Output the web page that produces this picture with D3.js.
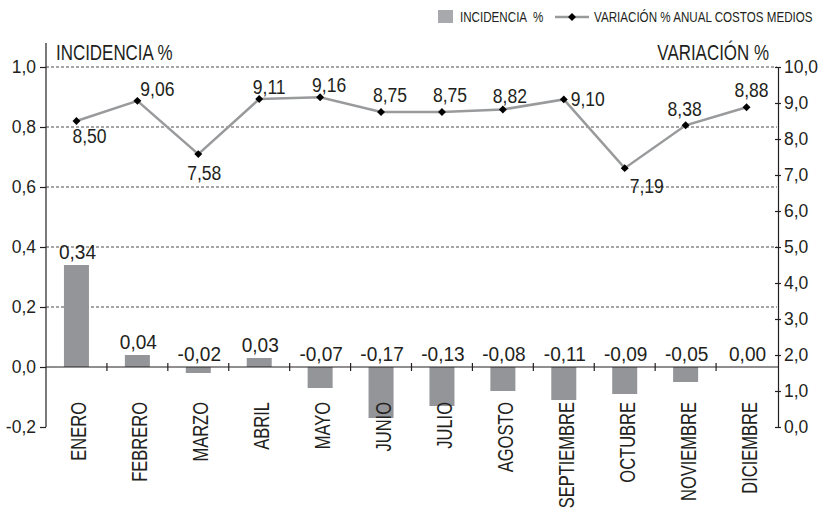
<!DOCTYPE html>
<meta charset="utf-8">
<style>
  body { margin: 0; background: #fff; }
  svg text { font-family: "Liberation Sans", Arial, sans-serif; fill: #231f20; }
  .grid line { stroke: #231f20; stroke-dasharray: 3,2; stroke-width: 0.8; }
  .axis path, .axis line { stroke: #231f20; stroke-width: 1.2; }
</style>
<body>
<svg width="822" height="512"></svg>
<script src="https://d3js.org/d3.v7.min.js"></script>
<script>
// data
var months = ["ENERO","FEBRERO","MARZO","ABRIL","MAYO","JUNIO","JULIO","AGOSTO","SEPTIEMBRE","OCTUBRE","NOVIEMBRE","DICIEMBRE"];
var incidencia = [0.34, 0.04, -0.02, 0.03, -0.07, -0.17, -0.13, -0.08, -0.11, -0.09, -0.05, 0.00];
var variacion = [8.50, 9.06, 7.58, 9.11, 9.16, 8.75, 8.75, 8.82, 9.10, 7.19, 8.38, 8.88];
var leftTicks = [-0.2, 0, 0.2, 0.4, 0.6, 0.8, 1.0];
var rightTicks = [0,1,2,3,4,5,6,7,8,9,10];

// label offsets for the line values (dx, dy from the point)
var lblDx = [13, 20, 6, 10, 9, 9, 8, 7, 24, 22, -1, 5];
var lblDy = [22, -5, 26, -5, -5, -10, -10, -6, 7, 25, -9, -10];

var svg = d3.select("svg");
var fmt1 = function(d) { return d3.format(".1f")(d).replace(".", ",").replace("−", "-"); };
var fmt2 = function(d) { return d3.format(".2f")(d).replace(".", ",").replace("−", "-"); };

// condensed look: scale text horizontally
function tf(x, y, sx, rot) {
  return "translate(" + x + "," + y + ")" + (rot ? " rotate(" + rot + ")" : "") + " scale(" + sx + ",1)";
}

var x = d3.scaleBand().domain(months).range([46, 777]);
var yL = d3.scaleLinear().domain([-0.2, 1.0]).range([427, 67]);
var yR = d3.scaleLinear().domain([0, 10]).range([427, 67]);
var cx = function(i) { return x(months[i]) + x.bandwidth() / 2; };

// grid
svg.append("g").attr("class", "grid")
  .selectAll("line").data([0.2, 0.4, 0.6, 0.8, 1.0]).enter().append("line")
  .attr("x1", 46).attr("x2", 777)
  .attr("y1", function(d) { return yL(d); }).attr("y2", function(d) { return yL(d); });

// bars
var bw = 25;
svg.append("g").selectAll("rect").data(incidencia).enter().append("rect")
  .attr("x", function(d, i) { return cx(i) - bw / 2; })
  .attr("y", function(d) { return yL(Math.max(0, d)); })
  .attr("width", bw)
  .attr("height", function(d) { return Math.abs(yL(d) - yL(0)); })
  .attr("fill", "#939598");

// bar labels
svg.append("g").selectAll("text").data(incidencia).enter().append("text")
  .attr("transform", function(d, i) { return tf(cx(i) + 1, yL(Math.max(0, d)) - 6, 0.93); })
  .attr("text-anchor", "middle")
  .style("font-size", "20.5px")
  .text(fmt2);

// left axis
var gl = svg.append("g").attr("class", "axis")
  .attr("transform", "translate(46,0)")
  .call(d3.axisLeft(yL).tickValues(leftTicks).tickFormat(fmt1).tickSize(6).tickSizeOuter(0));
gl.select(".domain").remove();
gl.append("line").attr("x1", 0).attr("x2", 0).attr("y1", 43).attr("y2", 427);
gl.selectAll("text").style("font-size", "17.5px").attr("x", -10);

// right axis
var gr = svg.append("g").attr("class", "axis")
  .attr("transform", "translate(778,0)")
  .call(d3.axisRight(yR).tickValues(rightTicks).tickFormat(fmt1).tickSize(4).tickSizeOuter(0));
gr.selectAll(".tick line").attr("x1", -3).attr("x2", 3);
gr.selectAll("text").style("font-size", "17.5px").attr("x", 6);

// x axis at zero
var gx = svg.append("g").attr("class", "axis")
  .attr("transform", "translate(0," + yL(0) + ")");
gx.append("line").attr("x1", 46).attr("x2", 778).attr("y1", 0).attr("y2", 0);
gx.selectAll(".sep").data(months.slice(1)).enter().append("line")
  .attr("x1", function(d) { return x(d); }).attr("x2", function(d) { return x(d); })
  .attr("y1", -4).attr("y2", 4);

// category labels
svg.append("g").selectAll("text").data(months).enter().append("text")
  .attr("transform", function(d, i) { return tf(cx(i) + 10, 402, 0.75, -90); })
  .attr("text-anchor", "end")
  .style("font-size", "22px")
  .text(function(d) { return d; });

// line
var line = d3.line()
  .x(function(d, i) { return cx(i); })
  .y(function(d) { return yR(d); });
svg.append("path").datum(variacion)
  .attr("d", line).attr("fill", "none")
  .attr("stroke", "#999a9c").attr("stroke-width", 2.5);

svg.append("g").selectAll("path").data(variacion).enter().append("path")
  .attr("d", d3.symbol().type(d3.symbolDiamond2).size(40))
  .attr("transform", function(d, i) { return "translate(" + cx(i) + "," + yR(d) + ")"; })
  .attr("fill", "#000");

svg.append("g").selectAll("text").data(variacion).enter().append("text")
  .attr("transform", function(d, i) { return tf(cx(i) + lblDx[i], yR(d) + lblDy[i], 0.9); })
  .attr("text-anchor", "middle")
  .style("font-size", "19.5px")
  .text(fmt2);

// axis titles
svg.append("text").attr("transform", tf(56, 60, 0.77)).style("font-size", "22px").text("INCIDENCIA %");
svg.append("text").attr("transform", tf(769, 60, 0.77)).attr("text-anchor", "end").style("font-size", "22px").text("VARIACIÓN %");

// legend
svg.append("rect").attr("x", 438).attr("y", 10).attr("width", 15).attr("height", 13).attr("fill", "#a7a9ac");
svg.append("text").attr("transform", tf(460, 22, 0.83)).style("font-size", "14px").style("white-space", "pre").text("INCIDENCIA  %");
svg.append("line").attr("x1", 555).attr("x2", 589).attr("y1", 17).attr("y2", 17)
  .attr("stroke", "#999a9c").attr("stroke-width", 2.5);
svg.append("path").attr("d", d3.symbol().type(d3.symbolDiamond2).size(40))
  .attr("transform", "translate(572,17)").attr("fill", "#000");
svg.append("text").attr("transform", tf(594, 22, 0.83)).style("font-size", "14px").text("VARIACIÓN % ANUAL COSTOS MEDIOS");
</script>
</body>
</html>
